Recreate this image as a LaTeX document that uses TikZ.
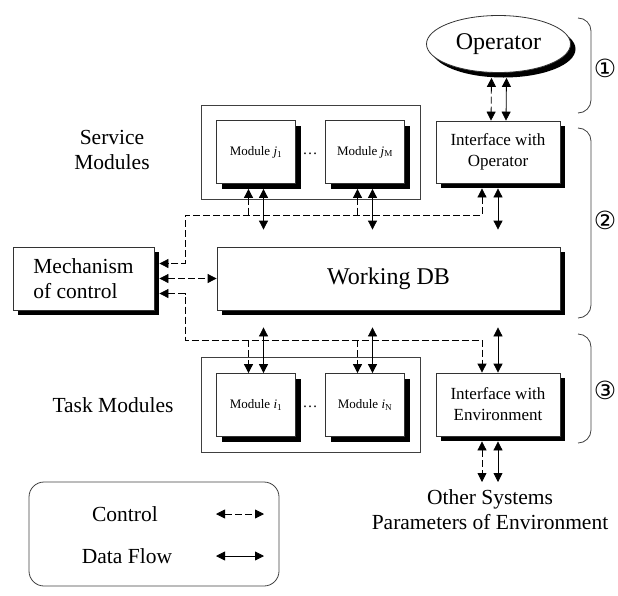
\documentclass[tikz,border=0pt]{standalone}
\usepackage{fontspec}
\setmainfont{Liberation Serif}
\newfontfamily\circfont{DejaVu Sans}
\usetikzlibrary{arrows.meta,shapes.geometric,shadows}

\begin{document}
\begin{tikzpicture}[x=1pt, y=-1pt,
    >={Triangle[length=9pt, width=9pt]},
    box/.style={draw=black!80, fill=white, line width=0.8pt, inner sep=0pt, align=center,
        drop shadow={shadow xshift=5pt, shadow yshift=-5pt, fill=black, opacity=1}},
    modbox/.style={box, minimum width=79pt, minimum height=63pt, font=\fontsize{13}{15}\selectfont},
    frame/.style={draw=black!75, line width=0.8pt, inner sep=0pt},
    lbl/.style={font=\fontsize{21.5}{25}\selectfont, align=center},
    ctrl/.style={line width=0.8pt, dash pattern=on 7pt off 3pt},
    data/.style={line width=0.8pt},
    brace/.style={draw=black!75, line width=0.8pt},
    circ/.style={font=\fontsize{25}{27}\circfont}]
    \useasboundingbox (0,0) rectangle (618,595);

    \node[box, ellipse, minimum width=144pt, minimum height=57pt, font=\fontsize{24}{28}\selectfont] (op) at (498.5,44) {Operator};

    \node[lbl] (svclbl) at (112,150) {Service\\Modules};
    \node[frame, minimum width=219pt, minimum height=94pt] (svc) at (310.5,152) {};
    \node[modbox] (mj1) at (256,152) {Module \textit{j}\textsubscript{1}};
    \node[modbox] (mjM) at (365,152) {Module \textit{j}\textsubscript{M}};
    \node[font=\fontsize{15}{17}\selectfont] (dj) at (310,154) {\dots};
    \node[box, minimum width=124pt, minimum height=62pt, font=\fontsize{17}{21}\selectfont] (ifop) at (498,152) {Interface with\\Operator};

    \node[box, lbl, align=left, minimum width=141pt, minimum height=63pt] (mech) at (83.5,278.5) {Mechanism\\of control};
    \node[box, minimum width=343pt, minimum height=63pt, font=\fontsize{24}{28}\selectfont] (wdb) at (388.5,278.5) {Working DB};

    \node[lbl] (tsklbl) at (113,405) {Task Modules};
    \node[frame, minimum width=219pt, minimum height=95pt] (tsk) at (310.5,404.5) {};
    \node[modbox] (mi1) at (256,405) {Module \textit{i}\textsubscript{1}};
    \node[modbox] (miN) at (365,405) {Module \textit{i}\textsubscript{N}};
    \node[font=\fontsize{15}{17}\selectfont] (di) at (310,407) {\dots};
    \node[box, minimum width=124pt, minimum height=63pt, font=\fontsize{17}{21}\selectfont] (ifenv) at (498,404.5) {Interface with\\Environment};
    \node[lbl] (oth) at (490,510) {Other Systems\\Parameters of Environment};

    \node[frame, rounded corners=15pt, minimum width=250pt, minimum height=104pt] (leg) at (154,534) {};
    \node[lbl] (lgc) at (125,514) {Control};
    \node[lbl] (lgd) at (127,556) {Data Flow};

    \coordinate (bt) at (185,215);
    \coordinate (bb) at (185,340);
    \coordinate (envout) at (498,482);
    \coordinate (lgc1) at (216,514);
    \coordinate (lgc2) at (264,514);
    \coordinate (lgd1) at (216,556);
    \coordinate (lgd2) at (264,556);

    \draw[ctrl,<->] ([xshift=-7pt,yshift=-5pt]op.south) -- ([xshift=-7pt]ifop.north);
    \draw[data,<->] ([xshift=8pt,yshift=-5pt]op.south) -- ([xshift=8pt]ifop.north);

    \draw[ctrl,<->] ([xshift=-16pt,yshift=-5pt]ifop.south) |- (bt) |- ([xshift=5pt,yshift=15pt]mech.east);
    \draw[ctrl,<-] ([xshift=-7.5pt,yshift=-5pt]mj1.south) -- ([xshift=-7.5pt]mj1.south |- bt);
    \draw[ctrl,<-] ([xshift=-7.5pt,yshift=-5pt]mjM.south) -- ([xshift=-7.5pt]mjM.south |- bt);
    \draw[data,<->] ([xshift=7.5pt,yshift=-5pt]mj1.south) -- ([xshift=7.5pt,yshift=17pt]mj1.south |- wdb.north);
    \draw[data,<->] ([xshift=7.5pt,yshift=-5pt]mjM.south) -- ([xshift=7.5pt,yshift=17pt]mjM.south |- wdb.north);
    \draw[data,<->] ([yshift=-5pt]ifop.south) -- ([yshift=17pt]ifop.south |- wdb.north);

    \draw[ctrl,<->] ([xshift=5pt]mech.east) -- (wdb.west);

    \draw[ctrl,<->] ([xshift=5pt,yshift=-15pt]mech.east) -| (bb) -| ([xshift=-16pt]ifenv.north);
    \draw[ctrl,->] ([xshift=-7.5pt]mi1.north |- bb) -- ([xshift=-7.5pt]mi1.north);
    \draw[ctrl,->] ([xshift=-7.5pt]miN.north |- bb) -- ([xshift=-7.5pt]miN.north);
    \draw[data,<->] ([xshift=7.5pt,yshift=-17pt]mi1.north |- wdb.south) -- ([xshift=7.5pt]mi1.north);
    \draw[data,<->] ([xshift=7.5pt,yshift=-17pt]miN.north |- wdb.south) -- ([xshift=7.5pt]miN.north);
    \draw[data,<->] ([yshift=-17pt]ifenv.north |- wdb.south) -- (ifenv.north);

    \draw[ctrl,<->] ([xshift=-16pt,yshift=-5pt]ifenv.south) -- ([xshift=-16pt]envout);
    \draw[data,<->] ([yshift=-5pt]ifenv.south) -- (envout);

    \draw[ctrl,<->] (lgc1) -- (lgc2);
    \draw[data,<->] (lgd1) -- (lgd2);

    \draw[brace] (578,18) to[out=0,in=90] (591,31) -- (591,100) to[out=-90,in=0] (578,113);
    \draw[brace] (578,128) to[out=0,in=90] (591,141) -- (591,305) to[out=-90,in=0] (578,318);
    \draw[brace] (578,334) to[out=0,in=90] (591,347) -- (591,430) to[out=-90,in=0] (578,443);
    \node[circ] (c1) at (605,68) {①};
    \node[circ] (c2) at (605,220) {②};
    \node[circ] (c3) at (605,390) {③};
\end{tikzpicture}
\end{document}
